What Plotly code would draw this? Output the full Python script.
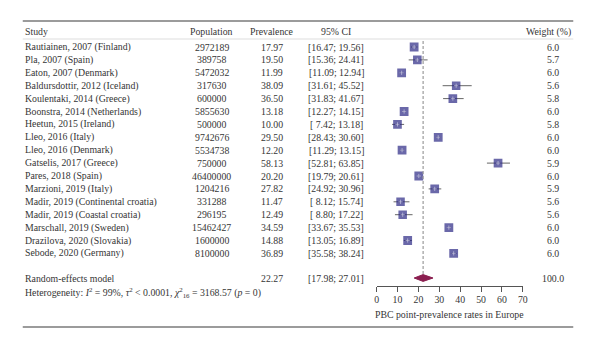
import plotly.graph_objects as go

# Study-level data
studies = [
    "Rautiainen, 2007 (Finland)", "Pla, 2007 (Spain)", "Eaton, 2007 (Denmark)",
    "Baldursdottir, 2012 (Iceland)", "Koulentaki, 2014 (Greece)",
    "Boonstra, 2014 (Netherlands)", "Heetun, 2015 (Ireland)", "Lleo, 2016 (Italy)",
    "Lleo, 2016 (Denmark)", "Gatselis, 2017 (Greece)", "Pares, 2018 (Spain)",
    "Marzioni, 2019 (Italy)", "Madir, 2019 (Continental croatia)",
    "Madir, 2019 (Coastal croatia)", "Marschall, 2019 (Sweden)",
    "Drazilova, 2020 (Slovakia)", "Sebode, 2020 (Germany)",
]
population = [2972189, 389758, 5472032, 317630, 600000, 5855630, 500000, 9742676,
              5534738, 750000, 46400000, 1204216, 331288, 296195, 15462427,
              1600000, 8100000]
prevalence = [17.97, 19.50, 11.99, 38.09, 36.50, 13.18, 10.00, 29.50, 12.20,
              58.13, 20.20, 27.82, 11.47, 12.49, 34.59, 14.88, 36.89]
ci_low = [16.47, 15.36, 11.09, 31.61, 31.83, 12.27, 7.42, 28.43, 11.29,
          52.81, 19.79, 24.92, 8.12, 8.80, 33.67, 13.05, 35.58]
ci_high = [19.56, 24.41, 12.94, 45.52, 41.67, 14.15, 13.18, 30.60, 13.15,
           63.85, 20.61, 30.96, 15.74, 17.22, 35.53, 16.89, 38.24]
weights = [6.0, 5.7, 6.0, 5.6, 5.8, 6.0, 5.8, 6.0, 6.0, 5.9, 6.0, 5.9, 5.6,
           5.6, 6.0, 6.0, 6.0]

# Pooled random-effects estimate
pooled = 22.27
pooled_low = 17.98
pooled_high = 27.01
pooled_weight = 100.0

x_ticks = [0, 10, 20, 30, 40, 50, 60, 70]

# Layout (pixel units on a 600 x 348 canvas)
W, H = 600, 348
FONT = "Liberation Serif"
FS = 9.8
TXT = "#353535"
SQUARE = "#2b2884"
DIAMOND = "#8b1f50"
ROW0, STEP = 47.0, 12.9
ROW_RE = 278.0
ROW_HET = 292.5
AXIS_Y = 285.5
COL_STUDY, COL_POP, COL_PREV, COL_CI, COL_W = 21, 212, 273, 338, 557
PLOT_X0, PLOT_X1 = 379, 527
LEFT, RIGHT = 21, 578

rows = [ROW0 + i * STEP for i in range(len(studies))]


def py(p):
    """Pixel row -> paper fraction."""
    return 1 - p / H


fig = go.Figure()

# Confidence-interval whiskers
wx, wy = [], []
for lo, hi, y in zip(ci_low, ci_high, rows):
    wx += [lo, hi, None]
    wy += [y, y, None]
fig.add_trace(go.Scatter(x=wx, y=wy, mode="lines",
                         line=dict(color="#666666", width=1),
                         hoverinfo="skip", showlegend=False))

# Study squares sized by weight
sizes = [8.8 * (w / 6.0) ** 0.5 for w in weights]
fig.add_trace(go.Scatter(x=prevalence, y=rows, mode="markers",
                         marker=dict(symbol="square", size=sizes, color=SQUARE,
                                     line=dict(width=0)),
                         showlegend=False))
fig.add_trace(go.Scatter(x=prevalence, y=rows, mode="markers",
                         marker=dict(symbol="cross-thin", size=3,
                                     line=dict(color="#d8d8ec", width=0.6)),
                         hoverinfo="skip", showlegend=False))

# Pooled diamond
dh = 3.4
fig.add_trace(go.Scatter(
    x=[pooled_low, pooled, pooled_high, pooled, pooled_low],
    y=[ROW_RE, ROW_RE - dh, ROW_RE, ROW_RE + dh, ROW_RE],
    mode="lines", fill="toself", fillcolor=DIAMOND,
    line=dict(color=DIAMOND, width=1), showlegend=False))

# Dashed reference line at the pooled estimate
fig.add_shape(type="line", xref="x", yref="y", x0=pooled, x1=pooled,
              y0=41, y1=ROW_RE - dh,
              line=dict(color="#9a9a9a", width=1.2, dash="3px,2px"))

# Horizontal rules
for yy, col, wd in [(21, "#7a7a7a", 1.3), (39, "#d4d4d4", 0.8),
                    (327, "#7a7a7a", 1.3)]:
    fig.add_shape(type="line", xref="paper", yref="paper", x0=LEFT / W,
                  x1=RIGHT / W, y0=py(yy), y1=py(yy),
                  line=dict(color=col, width=wd))


def txt(x, y, s, anchor="center"):
    fig.add_annotation(x=x / W, y=py(y), xref="paper", yref="paper", text=s,
                       showarrow=False, xanchor=anchor, yanchor="middle",
                       font=dict(family=FONT, size=FS, color=TXT))


# Column headers
HDR_Y = 31.5
txt(COL_STUDY, HDR_Y, "Study", "left")
txt(COL_POP, HDR_Y, "Population")
txt(COL_PREV, HDR_Y, "Prevalence")
txt(COL_CI, HDR_Y, "95% CI")
txt(RIGHT, HDR_Y, "Weight (%)", "right")

# Study rows
for s, n, p, lo, hi, w, y in zip(studies, population, prevalence, ci_low,
                                 ci_high, weights, rows):
    txt(COL_STUDY, y, s, "left")
    txt(COL_POP, y, f"{n}")
    txt(COL_PREV, y, f"{p:.2f}")
    txt(COL_CI, y, f"[{lo:5.2f}; {hi:5.2f}]".replace("  ", "\u2007"))
    txt(COL_W, y, f"{w:.1f}")

# Pooled row and heterogeneity
txt(COL_STUDY, ROW_RE, "Random-effects model", "left")
txt(COL_PREV, ROW_RE, f"{pooled:.2f}")
txt(COL_CI, ROW_RE, f"[{pooled_low:.2f}; {pooled_high:.2f}]")
txt(COL_W, ROW_RE, f"{pooled_weight:.1f}")
txt(COL_STUDY, ROW_HET,
    "Heterogeneity: <i>I</i><sup>2</sup> = 99%, <i>τ</i><sup>2</sup> &lt; 0.0001, "
    "<i>χ</i><sup>2</sup><sub>16</sub> = 3168.57 (<i>p</i> = 0)", "left")

# Axis title
txt((PLOT_X0 + PLOT_X1) / 2, 314.5, "PBC point-prevalence rates in Europe")

fig.update_layout(
    width=W, height=H, margin=dict(l=0, r=0, t=0, b=0),
    paper_bgcolor="white", plot_bgcolor="white",
    xaxis=dict(domain=[PLOT_X0 / W, PLOT_X1 / W], range=[0, 70],
               tickvals=x_ticks, ticks="outside", ticklen=5, tickwidth=1,
               tickcolor="#555555", showline=True, linecolor="#555555",
               linewidth=1, showgrid=False, zeroline=False,
               tickfont=dict(family=FONT, size=FS, color=TXT)),
    yaxis=dict(domain=[py(AXIS_Y), 1], range=[AXIS_Y, 0], visible=False,
               showgrid=False, zeroline=False),
    showlegend=False,
)

fig.write_html("out.html")
